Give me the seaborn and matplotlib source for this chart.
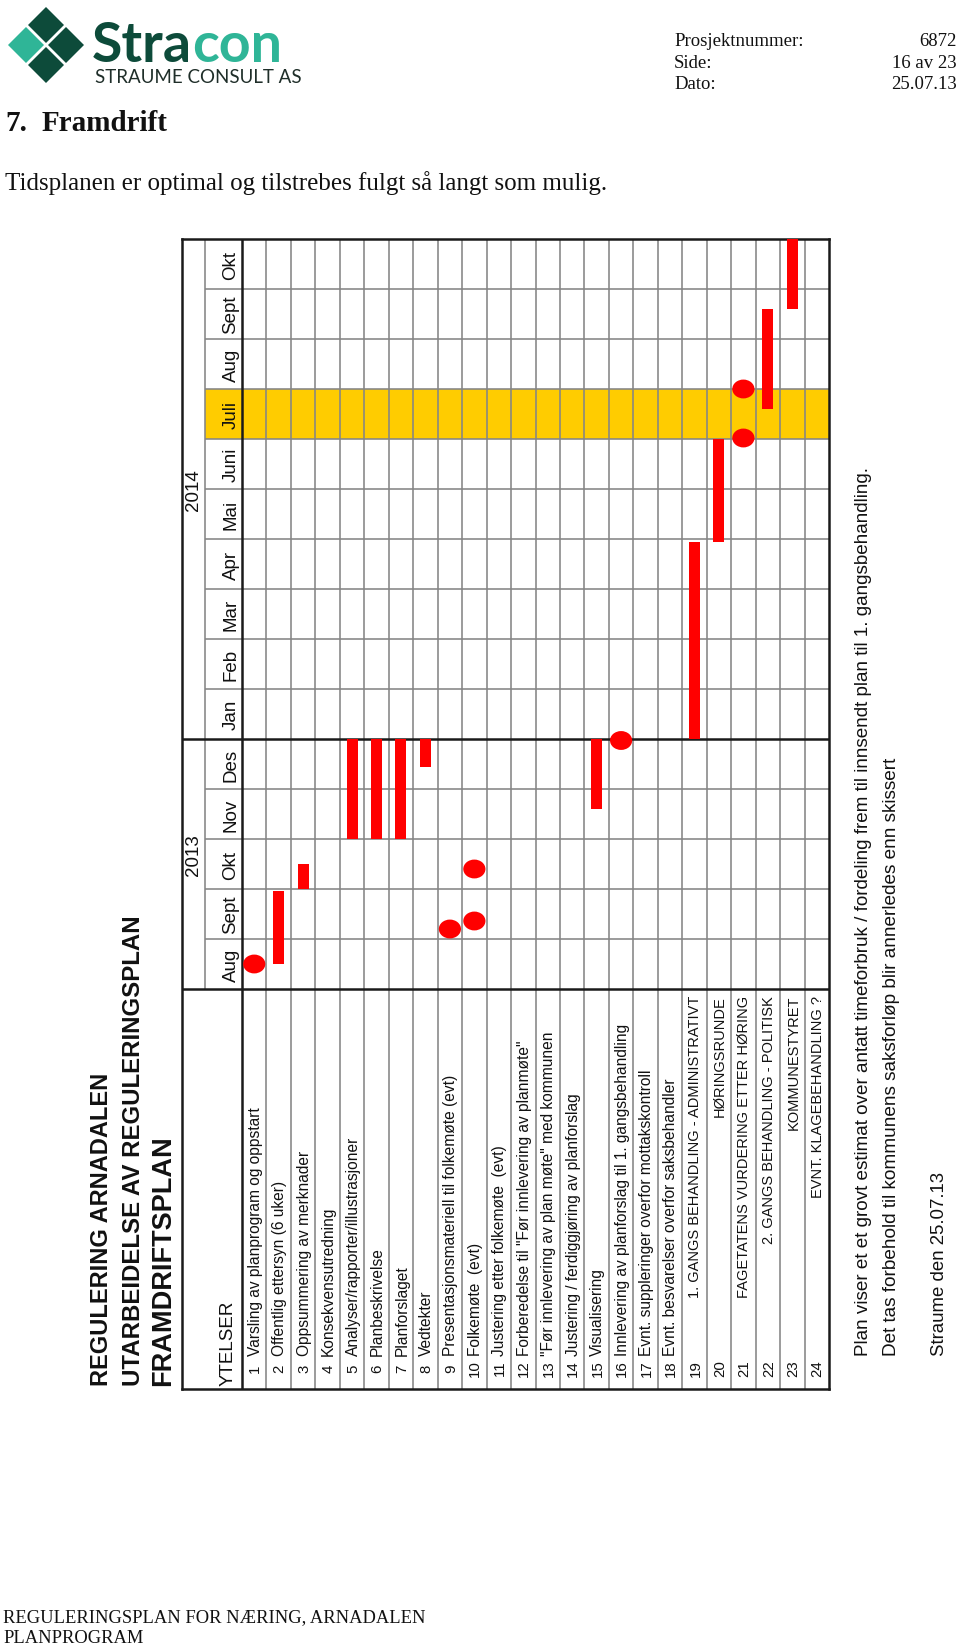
import numpy as np
import pandas as pd
import matplotlib
matplotlib.use("Agg")
import matplotlib.pyplot as plt
import seaborn as sns
from matplotlib.path import Path
from matplotlib.transforms import Affine2D
from matplotlib.patches import Polygon

# ---------------- data ----------------
months = ["Aug", "Sept", "Okt", "Nov", "Des", "Jan", "Feb", "Mar",
          "Apr", "Mai", "Juni", "Juli", "Aug", "Sept", "Okt"]
years = ["2013", "2014"]
year_pos = [2.7, 10.0]
highlight_month = 11  # Juli 2014

task_nums = list(range(1, 25))
task_labels = [
    "Varsling av planprogram og oppstart",
    "Offentlig ettersyn (6 uker)",
    "Oppsummering av merknader",
    "Konsekvensutredning",
    "Analyser/rapporter/illustrasjoner",
    "Planbeskrivelse",
    "Planforslaget",
    "Vedtekter",
    "Presentasjonsmateriell til folkemøte (evt)",
    "Folkemøte  (evt)",
    "Justering etter folkemøte  (evt)",
    "Forberedelse til \"Før innlevering av planmøte\"",
    "\"Før innlevering av plan møte\" med kommunen",
    "Justering / ferdiggjøring av planforslag",
    "Visualisering",
    "Innlevering av planforslag til 1. gangsbehandling",
    "Evnt. suppleringer overfor mottakskontroll",
    "Evnt. besvarelser overfor saksbehandler",
    "1. GANGS BEHANDLING - ADMINISTRATIVT",
    "HØRINGSRUNDE",
    "FAGETATENS VURDERING ETTER HØRING",
    "2. GANGS BEHANDLING - POLITISK",
    "KOMMUNESTYRET",
    "EVNT. KLAGEBEHANDLING ?",
]
right_aligned_from = 19

bar_task = [2, 3, 5, 6, 7, 8, 15, 19, 20, 22, 23]
bar_start = [0.5, 2.0, 3.0, 3.0, 3.0, 4.45, 3.6, 5.0, 8.95, 11.6, 13.6]
bar_end = [1.97, 2.5, 5.0, 5.0, 5.0, 5.0, 5.0, 8.95, 11.0, 13.6, 15.0]

ms_task = [1, 9, 10, 10, 16, 21, 21]
ms_time = [0.5, 1.2, 1.36, 2.4, 4.97, 11.02, 12.0]

# ---------------- style ----------------
sns.set_theme(style="white")
SANS = ["Liberation Sans", "DejaVu Sans"]
SERIF = ["Liberation Serif", "DejaVu Serif"]
plt.rcParams["font.family"] = SANS

W, H = 960, 1649
fig = plt.figure(figsize=(W / 100, H / 100), dpi=100)
fig.patch.set_facecolor("white")


def P(x, y):
    return (x / W, 1 - y / H)


# chart table axes (pixel frame 182..829 x 240..1390)
L, R, T, B = 182, 829, 240, 1390
ax = fig.add_axes([L / W, 1 - B / H, (R - L) / W, (B - T) / H])
task_w = (R - 242) / 24.0
x_min = 0.5 - (242 - L) / task_w
x_month = 0.5 - (242 - 205) / task_w
ax.set_xlim(x_min, 24.5)
ax.set_ylim(-8, 15)
ax.set_xticks([])
ax.set_yticks([])
for sp in ax.spines.values():
    sp.set_linewidth(1.8)
    sp.set_color("#1a1a1a")

GRID = "#858585"
# highlight band (Juli)
ax.fill_between([x_month, 24.5], highlight_month, highlight_month + 1,
                color="#FFCC00", zorder=0, linewidth=0)
# task separators
ax.vlines([i + 0.5 for i in range(1, 24)], -8, 15, color=GRID, lw=1.15, zorder=1)
# month separators
mlines = [m for m in range(1, len(months)) if m != 5]
ax.hlines(mlines, x_month, 24.5, color=GRID, lw=1.15, zorder=1)
ax.vlines([x_month], 0, 15, color=GRID, lw=1.15, zorder=1)
# heavy lines
ax.vlines([0.5], -8, 15, color="#1a1a1a", lw=1.8, zorder=2)
ax.hlines([0, 5], x_min, 24.5, color="#1a1a1a", lw=1.8, zorder=2)

# bars
ax.bar(bar_task, np.array(bar_end) - np.array(bar_start), bottom=bar_start,
       width=0.45, color="#FF0000", linewidth=0, zorder=3)

# milestones (slightly oval dots)
ell = Affine2D().scale(1.0, 0.85).transform_path(Path.unit_circle())
ms_df = pd.DataFrame({"task": ms_task, "time": ms_time})
sns.scatterplot(data=ms_df, x="task", y="time", ax=ax, marker=ell, s=255,
                color="#FF0000", edgecolor="none", linewidth=0, zorder=4,
                legend=False)
ax.set_xlabel("")
ax.set_ylabel("")

# month labels & years
for i, m in enumerate(months):
    ax.text(0.05, i + 0.5, m, rotation=90, ha="center", va="center",
            fontsize=13.5, color="#111111", zorder=5)
for yv, yp in zip(years, year_pos):
    ax.text(x_min + (x_month - x_min) / 2 + 0.02, yp, yv, rotation=90,
            ha="center", va="center", fontsize=13.5, color="#111111")

ax.text(-0.07, -7.93, "YTELSER", rotation=90, rotation_mode="anchor",
        ha="left", va="center", fontsize=13.5, color="#111111")

for n, lab in zip(task_nums, task_labels):
    ax.text(n + 0.04, -7.57, str(n), rotation=90, rotation_mode="anchor",
            ha="center", va="center", fontsize=10.8, color="#111111")
    if n >= right_aligned_from:
        ax.text(n + 0.04, -0.12, lab, rotation=90, rotation_mode="anchor",
                ha="right", va="center", fontsize=10.5, color="#111111")
    else:
        ax.text(n + 0.04, -7.33, lab, rotation=90, rotation_mode="anchor",
                ha="left", va="center", fontsize=11.2, color="#111111")

# ---------------- titles beside the table ----------------
fig.text(*P(102, 1386), "REGULERING ARNADALEN", rotation=90,
         rotation_mode="anchor", ha="left", va="center", fontsize=17,
         fontweight="bold", color="#111111")
fig.text(*P(133, 1386), "UTARBEIDELSE AV REGULERINGSPLAN", rotation=90,
         rotation_mode="anchor", ha="left", va="center", fontsize=17.3,
         fontweight="bold", color="#111111")
fig.text(*P(163, 1386), "FRAMDRIFTSPLAN", rotation=90,
         rotation_mode="anchor", ha="left", va="center", fontsize=19.5,
         fontweight="bold", color="#111111")

notes = [
    ("Plan viser et et grovt estimat over antatt timeforbruk / fordeling frem til innsendt plan til 1. gangsbehandling.", 864, 13.6),
    ("Det tas forbehold til kommunens saksforløp blir annerledes enn skissert", 892, 13.7),
    ("Straume den 25.07.13", 939, 13.4),
]
for txt, xp, fs in notes:
    fig.text(*P(xp, 1356), txt, rotation=90, rotation_mode="anchor",
             ha="left", va="center", fontsize=fs, color="#111111")

# ---------------- page header ----------------
DARK = "#0d4b3a"
TEAL = "#2fb597"
cx, cy, d, h = 46, 46, 20, 18
for (ox, oy), col in [((-d, 0), TEAL), ((0, -d), DARK), ((d, 0), DARK), ((0, d), DARK)]:
    x0, y0 = cx + ox, cy + oy
    pts = [P(x0 - h, y0), P(x0, y0 - h), P(x0 + h, y0), P(x0, y0 + h)]
    fig.patches.append(Polygon(pts, closed=True, facecolor=col, edgecolor="none",
                               transform=fig.transFigure, figure=fig))

t1 = fig.text(*P(92, 62), "Stra", fontsize=40, fontweight="bold",
              family=["Lato", "Liberation Sans", "DejaVu Sans"], color=DARK,
              ha="left", va="baseline")
fig.canvas.draw()
bb = t1.get_window_extent(renderer=fig.canvas.get_renderer())
fig.text(bb.x1 / W, 1 - 62 / H, "con", fontsize=40, fontweight="bold",
         family=["Lato", "Liberation Sans", "DejaVu Sans"], color=TEAL,
         ha="left", va="baseline")
fig.text(*P(95, 83), "STRAUME CONSULT AS", fontsize=13.5,
         family=["Lato", "Liberation Sans", "DejaVu Sans"], color="#1f2e29",
         ha="left", va="baseline")

hdr = [("Prosjektnummer:", "6872", 46), ("Side:", "16 av 23", 68), ("Dato:", "25.07.13", 89)]
for a, b, yb in hdr:
    fig.text(*P(674, yb), a, fontsize=13.5, family=SERIF, ha="left", va="baseline", color="#111111")
    fig.text(*P(957, yb), b, fontsize=13.5, family=SERIF, ha="right", va="baseline", color="#111111")

fig.text(*P(5, 131), "7.", fontsize=21, fontweight="bold", family=SERIF,
         ha="left", va="baseline", color="#111111")
fig.text(*P(42, 131), "Framdrift", fontsize=21, fontweight="bold", family=SERIF,
         ha="left", va="baseline", color="#111111")
fig.text(*P(5, 190), "Tidsplanen er optimal og tilstrebes fulgt så langt som mulig.",
         fontsize=18, family=SERIF, ha="left", va="baseline", color="#111111")

fig.text(*P(3, 1622), "REGULERINGSPLAN FOR NÆRING, ARNADALEN", fontsize=13.3,
         family=SERIF, ha="left", va="baseline", color="#111111")
fig.text(*P(3, 1643), "PLANPROGRAM", fontsize=13.3,
         family=SERIF, ha="left", va="baseline", color="#111111")

fig.savefig("out.png", dpi=100, facecolor="white")
